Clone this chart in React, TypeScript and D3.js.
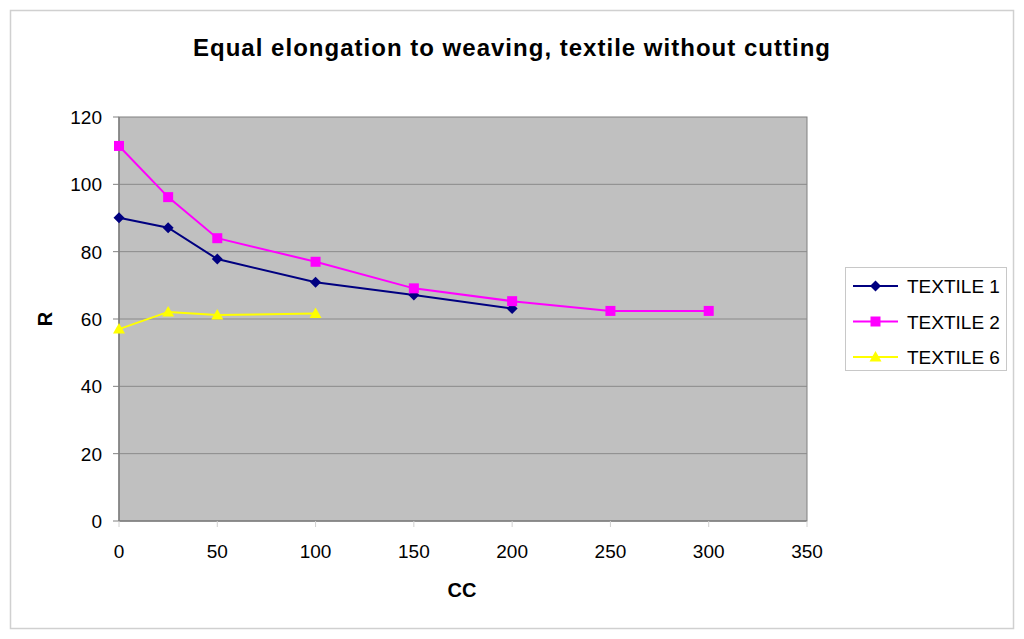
import React from "react";
import * as d3 from "d3";

const xs1 = [0, 25, 50, 100, 150, 200];
const textile1 = [90.1, 87.1, 77.8, 70.9, 67.1, 63.1];
const xs2 = [0, 25, 50, 100, 150, 200, 250, 300];
const textile2 = [111.4, 96.2, 84.0, 77.0, 69.1, 65.3, 62.4, 62.4];
const xs6 = [0, 25, 50, 100];
const textile6 = [57.0, 62.1, 61.2, 61.6];
const xTicks = [0, 50, 100, 150, 200, 250, 300, 350];
const yTicks = [0, 20, 40, 60, 80, 100, 120];
const seriesNames = ["TEXTILE 1", "TEXTILE 2", "TEXTILE 6"];
const seriesColors = ["#000080", "#FF00FF", "#FFFF00"];

const W = 1024, H = 639;
const plot = { left: 119, right: 807, top: 117, bottom: 521 };
const font = "'Liberation Sans', Arial, sans-serif";

function Marker({ kind, x, y, color }: { kind: number; x: number; y: number; color: string }) {
  if (kind === 0) {
    const s = 5.5;
    return <path d={`M${x},${y - s}L${x + s},${y}L${x},${y + s}L${x - s},${y}Z`} fill={color} />;
  }
  if (kind === 1) {
    return <rect x={x - 5} y={y - 5} width={10} height={10} fill={color} />;
  }
  return <path d={`M${x},${y - 6}L${x + 6},${y + 4.5}L${x - 6},${y + 4.5}Z`} fill={color} />;
}

export default function App() {
  const x = d3.scaleLinear().domain([0, 350]).range([plot.left, plot.right]);
  const y = d3.scaleLinear().domain([0, 120]).range([plot.bottom, plot.top]);
  const series = [
    { xs: xs1, ys: textile1 },
    { xs: xs2, ys: textile2 },
    { xs: xs6, ys: textile6 },
  ];
  const line = d3
    .line<[number, number]>()
    .x((d) => x(d[0]))
    .y((d) => y(d[1]));

  return (
    <svg
      width={W}
      height={H}
      style={{ position: "absolute", left: 0, top: 0, background: "#fff" }}
      fontFamily={font}
    >
      <rect x={10.5} y={10.5} width={1003} height={618} fill="#fff" stroke="#d0d0d0" strokeWidth={1.5} />
      <text
        x={193}
        y={56}
        fontSize={24}
        fontWeight="bold"
        textLength={637}
        lengthAdjust="spacing"
      >
        Equal elongation to weaving, textile without cutting
      </text>
      <rect
        x={plot.left}
        y={plot.top}
        width={plot.right - plot.left}
        height={plot.bottom - plot.top}
        fill="#C0C0C0"
        stroke="#808080"
        strokeWidth={1}
      />
      {yTicks.map((t) => (
        <g key={"y" + t}>
          {t > 0 && t < 120 && (
            <line x1={plot.left} x2={plot.right} y1={y(t)} y2={y(t)} stroke="#8a8a8a" strokeWidth={1} />
          )}
          <line x1={plot.left - 6} x2={plot.left} y1={y(t)} y2={y(t)} stroke="#808080" />
          <text x={plot.left - 17} y={y(t) + 7} textAnchor="end" fontSize={19}>
            {t}
          </text>
        </g>
      ))}
      <line x1={plot.left} x2={plot.left} y1={plot.top} y2={plot.bottom} stroke="#808080" strokeWidth={1.5} />
      <line x1={plot.left} x2={plot.right} y1={plot.bottom} y2={plot.bottom} stroke="#808080" strokeWidth={1.5} />
      {xTicks.map((t) => (
        <g key={"x" + t}>
          <line x1={x(t)} x2={x(t)} y1={plot.bottom} y2={plot.bottom + 6} stroke="#d0d0d0" />
          <text x={x(t)} y={plot.bottom + 37} textAnchor="middle" fontSize={19}>
            {t}
          </text>
        </g>
      ))}
      <text x={462} y={597} textAnchor="middle" fontSize={20} fontWeight="bold">
        CC
      </text>
      <text
        transform={`translate(52,${(plot.top + plot.bottom) / 2}) rotate(-90)`}
        textAnchor="middle"
        fontSize={20}
        fontWeight="bold"
      >
        R
      </text>
      {series.map((s, i) => {
        const pts = s.xs.map((v, j) => [v, s.ys[j]] as [number, number]);
        return (
          <g key={"s" + i}>
            <path d={line(pts) || ""} fill="none" stroke={seriesColors[i]} strokeWidth={2} />
            {pts.map((p, j) => (
              <Marker key={j} kind={i} x={x(p[0])} y={y(p[1])} color={seriesColors[i]} />
            ))}
          </g>
        );
      })}
      <rect x={845.5} y={267.5} width={161} height={103} fill="#fff" stroke="#c8c8c8" strokeWidth={1} />
      {seriesNames.map((n, i) => {
        const ly = 286 + i * 35.5;
        return (
          <g key={"l" + i}>
            <line x1={853} x2={898} y1={ly} y2={ly} stroke={seriesColors[i]} strokeWidth={2} />
            <Marker kind={i} x={875.5} y={ly} color={seriesColors[i]} />
            <text x={907} y={ly + 7} fontSize={19}>
              {n}
            </text>
          </g>
        );
      })}
    </svg>
  );
}
